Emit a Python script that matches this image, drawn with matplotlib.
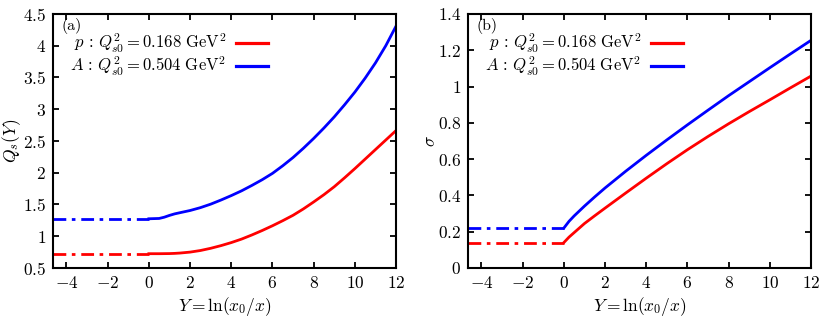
#!/usr/bin/env python3

import matplotlib
matplotlib.use("Agg")
import matplotlib.pyplot as plt
from matplotlib.ticker import FuncFormatter, MultipleLocator

plt.rcParams['font.family'] = 'serif'
plt.rcParams['font.serif'] = ['cmr10', 'DejaVu Serif']
plt.rcParams['mathtext.fontset'] = 'cm'
plt.rcParams['axes.formatter.use_mathtext'] = True

# initial condition region (dash-dot), Y < 0
Y_INIT = [-4.65, 0.0]
QS_P_INIT = [0.725, 0.725]
QS_A_INIT = [1.275, 1.275]
SIG_P_INIT = [0.14, 0.14]
SIG_A_INIT = [0.22, 0.22]

# evolved region (solid)
Y_QS = [0, 0.5, 0.75, 1, 1.25, 1.5, 2, 2.5, 3, 3.5, 4, 4.5, 5, 5.5, 6,
        6.5, 7, 7.5, 8, 8.5, 9, 9.5, 10, 10.5, 11, 11.5, 12]
QS_P = [0.725, 0.725, 0.726, 0.727, 0.73, 0.735, 0.75, 0.775, 0.81, 0.852, 0.90, 0.955, 1.02, 1.09, 1.165,
        1.245, 1.33, 1.43, 1.54, 1.655, 1.78, 1.92, 2.065, 2.215, 2.365, 2.515, 2.665]
QS_A = [1.275, 1.28, 1.30, 1.328, 1.352, 1.37, 1.405, 1.45, 1.505, 1.57, 1.64, 1.715, 1.80, 1.89, 1.99,
        2.11, 2.24, 2.385, 2.54, 2.705, 2.88, 3.07, 3.27, 3.49, 3.73, 4.0, 4.31]

Y_SIG = [0, 0.25, 0.5, 1, 1.5, 2, 3, 4, 5, 6, 7, 8, 9, 10, 11, 12]
SIG_P = [0.14, 0.17, 0.195, 0.245, 0.288, 0.33, 0.413, 0.495, 0.575, 0.652, 0.725, 0.795, 0.862, 0.927, 0.993, 1.058]
SIG_A = [0.22, 0.257, 0.287, 0.341, 0.392, 0.441, 0.533, 0.621, 0.706, 0.789, 0.870, 0.950, 1.027, 1.104, 1.180, 1.255]

LABEL_P = r'$p\,:\,Q^2_{s0} = 0.168\ \mathrm{GeV}^2$'
LABEL_A = r'$A\,:\,Q^2_{s0} = 0.504\ \mathrm{GeV}^2$'

LW = 2.0
DASHDOT = (4.6, 2.0, 1.3, 2.1)


def fmt(v, pos):
    return r'$%g$' % round(v, 3)


def style_axes(ax, ymin, ymax, ystep):
    ax.set_xlim(-4.65, 12)
    ax.set_ylim(ymin, ymax)
    ax.xaxis.set_major_locator(MultipleLocator(2))
    ax.yaxis.set_major_locator(MultipleLocator(ystep))
    ax.xaxis.set_major_formatter(FuncFormatter(fmt))
    ax.yaxis.set_major_formatter(FuncFormatter(fmt))
    ax.tick_params(direction='in', top=True, right=True, length=4, width=1.3,
                   labelsize=12.5, pad=5)
    for s in ax.spines.values():
        s.set_linewidth(1.5)
    ax.set_xlabel(r'$Y = \ln(x_0/x)$', fontsize=12.5, labelpad=3)


def draw_panel(ax, tag, y_p, v_p, v_a, init_p, init_a, ylabel):
    ax.plot(Y_INIT, init_p, color='red', lw=LW, dashes=DASHDOT)
    ax.plot(Y_INIT, init_a, color='blue', lw=LW, dashes=DASHDOT)
    ax.plot(y_p, v_p, color='red', lw=LW, label=LABEL_P)
    ax.plot(y_p, v_a, color='blue', lw=LW, label=LABEL_A)
    ax.text(0.025, 0.985, tag, transform=ax.transAxes, ha='left', va='top',
            fontsize=11.5)
    leg = ax.legend(loc='upper right', bbox_to_anchor=(0.628, 0.93), frameon=False,
                    markerfirst=False, fontsize=12, handlelength=1.95,
                    handletextpad=0.6, labelspacing=0.0, borderpad=0,
                    borderaxespad=0)
    for h in leg.get_lines():
        h.set_linewidth(2.3)
    ax.set_ylabel(ylabel, fontsize=12.5)
    ax.yaxis.set_label_coords(-0.088, 0.5)


fig = plt.figure(figsize=(8.3, 3.32), dpi=100)
ax1 = fig.add_axes([0.0639, 0.1928, 0.4133, 0.7651])
ax2 = fig.add_axes([0.5639, 0.1928, 0.4133, 0.7651])

draw_panel(ax1, '(a)', Y_QS, QS_P, QS_A, QS_P_INIT, QS_A_INIT, r'$Q_s(Y)$')
style_axes(ax1, 0.5, 4.5, 0.5)

draw_panel(ax2, '(b)', Y_SIG, SIG_P, SIG_A, SIG_P_INIT, SIG_A_INIT, r'$\sigma$')
style_axes(ax2, 0.0, 1.4, 0.2)

fig.savefig('out.png', dpi=100)
